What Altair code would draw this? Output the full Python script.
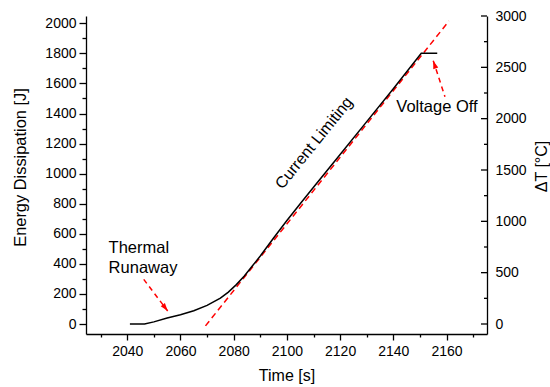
import math
import altair as alt
import pandas as pd

# Measured energy dissipation curve
time_s = [2041, 2046.5, 2050, 2055, 2060, 2065, 2070, 2075, 2078, 2081, 2084, 2087,
          2090, 2095, 2100, 2105, 2110, 2120, 2130, 2140, 2150.5, 2156.5]
energy_j = [0, 0, 14, 40, 62, 88, 124, 172, 212, 262, 320, 386,
            452, 572, 688, 800, 910, 1127, 1346, 1565, 1800, 1800]

# Linear fit of the current-limiting stage
fit_time = [2069.4, 2160.9]
fit_energy = [-12.6, 2015]

# Tick values
x_ticks = list(range(2030, 2171, 10))
e_ticks = list(range(0, 2001, 100))
dt_major = list(range(0, 3001, 500))
dt_minor = list(range(250, 3000, 500))

# Annotation arrows (start -> tip)
arrow_id = ["runaway", "runaway", "off", "off"]
arrow_t = [2046.2, 2055.2, 2159.4, 2155.0]
arrow_e = [297, 86.5, 1512, 1751]

# Annotation labels
label_text = ["Thermal\nRunaway", "Current Limiting", "Voltage Off"]
label_t = [2033.0, 2110.2, 2156.4]
label_e = [472, 1204, 1410]

W, H = 401, 318
PAD = {"left": 86, "top": 16, "right": 63, "bottom": 53}
X_DOMAIN = [2024.5, 2175.2]
E_DOMAIN = [-66.5, 2048.5]
DT_DOMAIN = [-97.4, 3000]
FONT = "Liberation Sans"
RED = "#ff0000"

x_scale = alt.Scale(domain=X_DOMAIN, nice=False, zero=False)
e_scale = alt.Scale(domain=E_DOMAIN, nice=False, zero=False)
dt_scale = alt.Scale(domain=DT_DOMAIN, nice=False, zero=False)

x_axis = alt.Axis(
    values=x_ticks, format="d",
    labelExpr="datum.value % 20 === 0 ? datum.label : ''",
    tickSize={"condition": {"test": "datum.value % 20 === 0", "value": 6}, "value": 3},
    grid=False, domainColor="black", tickColor="black", domainWidth=1.3, tickWidth=1.3,
    labelFont=FONT, labelFontSize=14, labelColor="black", labelPadding=4,
    labelOverlap=False, labelFlush=False,
    title="Time [s]", titleFont=FONT, titleFontSize=16, titleFontWeight="normal",
    titleColor="black", titleY=46, titleBaseline="alphabetic",
)

e_axis = alt.Axis(
    values=e_ticks, format="d",
    labelExpr="datum.value % 200 === 0 ? datum.label : ''",
    tickSize={"condition": {"test": "datum.value % 200 === 0", "value": 7}, "value": 4},
    grid=False, domainColor="black", tickColor="black", domainWidth=1.3, tickWidth=1.3,
    labelFont=FONT, labelFontSize=14, labelColor="black", labelPadding=3,
    labelOverlap=False, labelFlush=False,
    title="Energy Dissipation [J]", titleFont=FONT, titleFontSize=16.4,
    titleFontWeight="normal", titleColor="black",
    titleAngle=270, titleX=-66, titleY=151, titleAlign="center", titleBaseline="middle",
)

dt_axis = alt.Axis(
    orient="right", values=dt_major, format="d", ticks=False,
    grid=False, domainColor="black", domainWidth=1.3,
    labelFont=FONT, labelFontSize=14, labelColor="black", labelPadding=8,
    labelOverlap=False, labelFlush=False,
    title="ΔT [°C]", titleFont=FONT, titleFontSize=16,
    titleFontWeight="normal", titleColor="black",
    titleAngle=270, titleX=54, titleY=150, titleAlign="center", titleBaseline="middle",
)

X = alt.X("t:Q", scale=x_scale, axis=x_axis)
Y = alt.Y("E:Q", scale=e_scale, axis=e_axis)

curve_df = pd.DataFrame({"t": time_s, "E": energy_j})
fit_df = pd.DataFrame({"t": fit_time, "E": fit_energy})
arrow_df = pd.DataFrame({"id": arrow_id, "t": arrow_t, "E": arrow_e})
label_df = pd.DataFrame({"label": label_text, "t": label_t, "E": label_e})

# Arrowhead directions in screen space (clockwise from up)
px_t = W / (X_DOMAIN[1] - X_DOMAIN[0])
px_e = H / (E_DOMAIN[1] - E_DOMAIN[0])
heads = []
for i in range(0, len(arrow_t), 2):
    dx = (arrow_t[i + 1] - arrow_t[i]) * px_t
    dy = -(arrow_e[i + 1] - arrow_e[i]) * px_e
    ang = math.degrees(math.atan2(dx, -dy)) % 360
    heads.append({"t": arrow_t[i + 1], "E": arrow_e[i + 1], "angle": ang})
head_df = pd.DataFrame(heads)

curve = alt.Chart(curve_df).mark_line(color="black", strokeWidth=1.5).encode(x=X, y=Y)

fit = alt.Chart(fit_df).mark_line(color=RED, strokeWidth=1.5, strokeDash=[6, 4]).encode(x=X, y=Y)

arrows = alt.Chart(arrow_df).mark_line(color=RED, strokeWidth=1.5, strokeDash=[5, 4]).encode(
    x=X, y=Y, detail="id:N"
)

arrowheads = alt.Chart(head_df).mark_point(
    shape="M0,0L-0.55,1.7L0.55,1.7Z", filled=True, color=RED, opacity=1, size=90
).encode(x=X, y=Y, angle=alt.Angle("angle:Q", scale=None))

runaway_text = alt.Chart(label_df.iloc[[0]]).mark_text(
    font=FONT, fontSize=16.5, color="black", align="left", baseline="alphabetic",
    lineBreak="\n", lineHeight=20
).encode(x=X, y=Y, text="label:N")

limiting_text = alt.Chart(label_df.iloc[[1]]).mark_text(
    font=FONT, fontSize=16, color="black", align="center", baseline="middle", angle=309
).encode(x=X, y=Y, text="label:N")

off_text = alt.Chart(label_df.iloc[[2]]).mark_text(
    font=FONT, fontSize=16.5, color="black", align="center", baseline="alphabetic"
).encode(x=X, y=Y, text="label:N")

left_group = alt.layer(fit, curve, arrows, arrowheads, runaway_text, limiting_text, off_text)

# Right-hand ΔT axis with inward ticks
DT = alt.Y("dT:Q", scale=dt_scale, axis=dt_axis)
major_ticks = alt.Chart(pd.DataFrame({"dT": dt_major})).mark_rule(
    color="black", strokeWidth=1.3
).encode(y=DT, x=alt.value(W - 6), x2=alt.value(W))
minor_ticks = alt.Chart(pd.DataFrame({"dT": dt_minor})).mark_rule(
    color="black", strokeWidth=1.3
).encode(y=DT, x=alt.value(W - 3), x2=alt.value(W))
right_group = alt.layer(major_ticks, minor_ticks)

chart = alt.layer(left_group, right_group).resolve_scale(y="independent").properties(
    width=W, height=H, padding=PAD, autosize="none", background="white",
).configure_view(stroke=None)

chart.save("out.html", embed_options={"renderer": "svg", "actions": False})
